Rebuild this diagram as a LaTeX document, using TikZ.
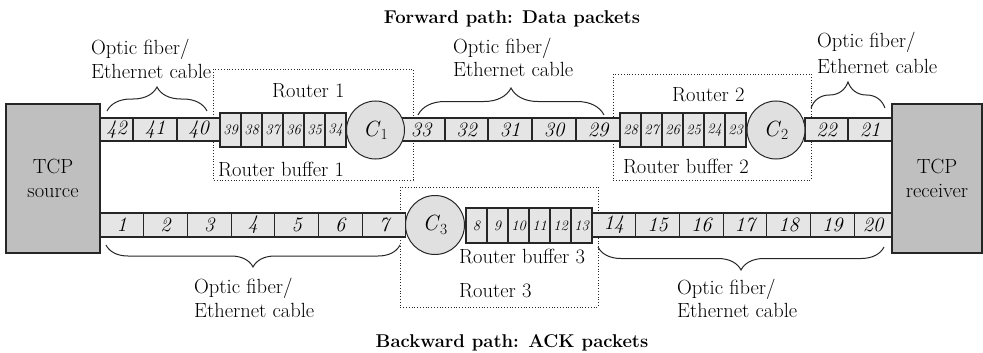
\documentclass[tikz,border=0pt]{standalone}
\usetikzlibrary{decorations.pathreplacing}
\tikzset{
  pkt/.style={draw=black!85, line width=1.1pt, fill=black!10, inner sep=0pt,
    minimum height=23pt, font=\fontsize{20.5}{20.5}\selectfont\itshape},
  bpkt/.style={pkt, minimum height=24pt},
  buf/.style={draw=black!85, line width=1.1pt, fill=black!10, inner sep=0pt,
    minimum width=21pt, minimum height=34pt, font=\fontsize{14.5}{14.5}\selectfont\itshape},
  host/.style={draw=black!85, line width=1.1pt, fill=black!25, inner sep=0pt,
    minimum height=149pt, align=center, font=\fontsize{20.5}{24}\selectfont},
  srv/.style={circle, draw=black!85, line width=1pt, fill=black!12, inner sep=0pt,
    minimum size=58pt, font=\fontsize{22}{22}\selectfont},
  routerbox/.style={draw=black!85, dotted, line width=0.8pt},
  lbl/.style={font=\fontsize{20.5}{20.5}\selectfont, inner sep=0pt, anchor=base west},
  ttl/.style={font=\fontsize{18.5}{18.5}\selectfont\bfseries, inner sep=0pt, anchor=base},
  brc/.style={decorate, decoration={brace, amplitude=#1}, line width=1pt, draw=black!85},
  mbrc/.style={decorate, decoration={brace, mirror, amplitude=#1}, line width=1pt, draw=black!85}
}
\newcommand{\cs}[1]{\textit{C}\raisebox{-0.35ex}{\fontsize{15.5}{15.5}\selectfont #1}}
\begin{document}
\begin{tikzpicture}[x=1pt, y=-1pt]
\useasboundingbox (0,0) rectangle (983,353);

% router boxes (dotted)
\draw[routerbox] (213,69) rectangle (413,180);
\draw[routerbox] (613,74) rectangle (811,180);
\draw[routerbox] (400,187) rectangle (598,307);

% hosts
\node[host, minimum width=94pt] (src) at (53,178.5) {TCP\\source};
\node[host, minimum width=90pt] (rcv) at (937,178.5) {TCP\\receiver};

% forward path cells
\node[pkt, minimum width=33pt] (f42) at (116.5,129.5) {42};
\node[pkt, minimum width=44pt] (f41) at (155,129.5) {41};
\node[pkt, minimum width=43pt] (f40) at (198.5,129.5) {40};
\node[buf] (f39) at (230.5,130) {39};
\node[buf] (f38) at (251.5,130) {38};
\node[buf] (f37) at (272.5,130) {37};
\node[buf] (f36) at (293.5,130) {36};
\node[buf] (f35) at (314.5,130) {35};
\node[buf] (f34) at (335.5,130) {34};
\node[pkt, minimum width=44pt] (f33) at (423,129.5) {\hspace*{-4pt}33};
\node[pkt, minimum width=43pt] (f32) at (466.5,129.5) {32};
\node[pkt, minimum width=44pt] (f31) at (510,129.5) {31};
\node[pkt, minimum width=44pt] (f30) at (554,129.5) {30};
\node[pkt, minimum width=44pt] (f29) at (598,129.5) {29};
\node[buf] (f28) at (630.5,130) {28};
\node[buf] (f27) at (651.5,130) {27};
\node[buf] (f26) at (672.5,130) {26};
\node[buf] (f25) at (693.5,130) {25};
\node[buf] (f24) at (714.5,130) {24};
\node[buf] (f23) at (735.5,130) {23};
\node[pkt, minimum width=43pt] (f22) at (826.5,129.5) {22};
\node[pkt, minimum width=44pt] (f21) at (870,129.5) {21};
\node[srv] (c1) at (375.5,130) {\cs{1}};
\node[srv] (c2) at (776,130) {\cs{2}};

% backward path cells
\node[bpkt, minimum width=43.7pt] (b1) at (121.85,225) {1};
\node[bpkt, minimum width=43.7pt] (b2) at (165.55,225) {2};
\node[bpkt, minimum width=43.7pt] (b3) at (209.25,225) {3};
\node[bpkt, minimum width=43.7pt] (b4) at (252.95,225) {4};
\node[bpkt, minimum width=43.7pt] (b5) at (296.65,225) {5};
\node[bpkt, minimum width=43.7pt] (b6) at (340.35,225) {6};
\node[bpkt, minimum width=43.7pt] (b7) at (384.05,225) {7};
\node[srv, minimum size=59pt] (c3) at (435,225) {\cs{3}};
\node[buf, minimum height=35pt] (b8) at (476.5,225.5) {8};
\node[buf, minimum height=35pt] (b9) at (497.5,225.5) {9};
\node[buf, minimum height=35pt] (b10) at (518.5,225.5) {10};
\node[buf, minimum height=35pt] (b11) at (539.5,225.5) {11};
\node[buf, minimum height=35pt] (b12) at (560.5,225.5) {12};
\node[buf, minimum height=35pt] (b13) at (581.5,225.5) {13};
\node[bpkt, minimum width=43.7pt] (b14) at (613.85,225) {14};
\node[bpkt, minimum width=43.7pt] (b15) at (657.55,225) {15};
\node[bpkt, minimum width=43.7pt] (b16) at (701.25,225) {16};
\node[bpkt, minimum width=43.7pt] (b17) at (744.95,225) {17};
\node[bpkt, minimum width=43.7pt] (b18) at (788.65,225) {18};
\node[bpkt, minimum width=43.7pt] (b19) at (832.35,225) {19};
\node[bpkt, minimum width=37.8pt] (b20) at (873.1,225) {20};

% braces
\coordinate (tlA) at (107,111); \coordinate (tlB) at (207,111);
\coordinate (tmA) at (418,115); \coordinate (tmB) at (604,115);
\coordinate (trA) at (811,108); \coordinate (trB) at (885,108);
\coordinate (blA) at (106,245); \coordinate (blB) at (400,245);
\coordinate (brA) at (598,247); \coordinate (brB) at (884,247);
\draw[brc=24] (tlA) -- (tlB);
\draw[brc=27] (tmA) -- (tmB);
\draw[brc=26] (trA) -- (trB);
\draw[mbrc=22] (blA) -- (blB);
\draw[mbrc=23] (brA) -- (brB);

% labels
\node[ttl] (fwd) at (512,24) {Forward path: Data packets};
\node[ttl] (bwd) at (512,347) {Backward path: ACK packets};
\node[lbl] (tl1) at (91,55) {Optic fiber/};
\node[lbl] (tl2) at (91,79) {Ethernet cable};
\node[lbl] (tm1) at (453,54) {Optic fiber/};
\node[lbl] (tm2) at (453,77) {Ethernet cable};
\node[lbl] (tr1) at (817,48) {Optic fiber/};
\node[lbl] (tr2) at (817,74) {Ethernet cable};
\node[lbl] (bl1) at (194,293) {Optic fiber/};
\node[lbl] (bl2) at (194,317) {Ethernet cable};
\node[lbl] (br1) at (677,294) {Optic fiber/};
\node[lbl] (br2) at (677,317) {Ethernet cable};
\node[lbl] (r1) at (272,98) {Router 1};
\node[lbl] (rb1) at (218,176) {Router buffer 1};
\node[lbl] (r2) at (672,102) {Router 2};
\node[lbl, anchor=base east] (rb2) at (749,173) {Router buffer 2};
\node[lbl] (rb3) at (459,263) {Router buffer 3};
\node[lbl] (r3) at (459,297) {Router 3};
\end{tikzpicture}
\end{document}
